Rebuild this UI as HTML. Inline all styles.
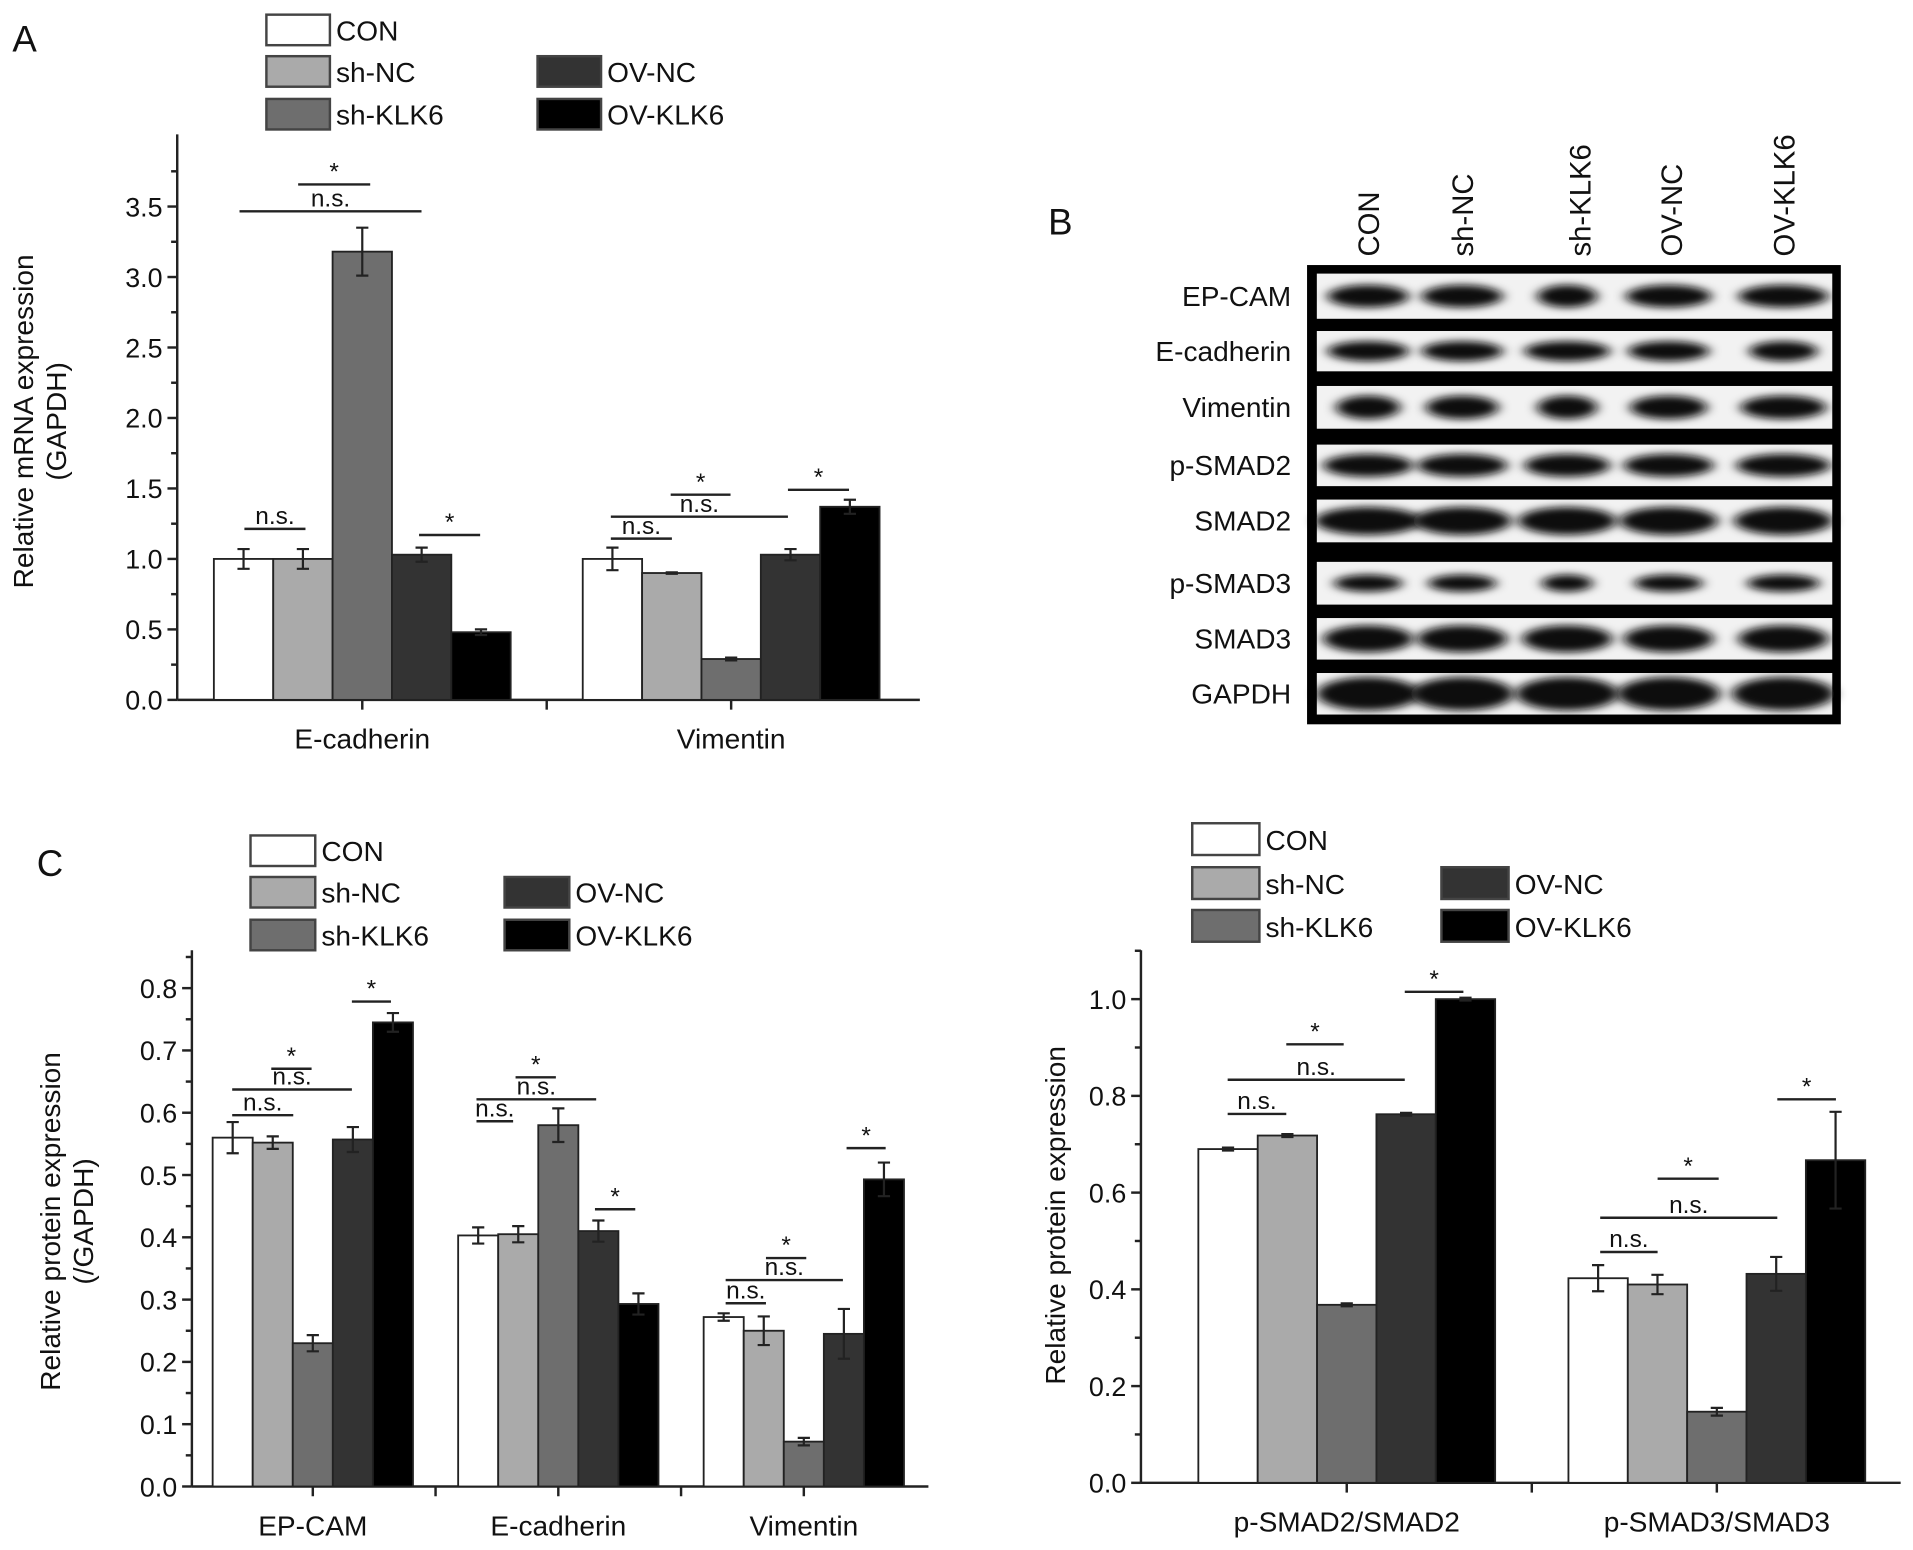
<!DOCTYPE html>
<html><head><meta charset="utf-8">
<style>
html,body{margin:0;padding:0;background:#fff;}
svg{display:block;font-family:"Liberation Sans",sans-serif;}
</style></head>
<body>
<svg id="fig" width="1913" height="1550" viewBox="0 0 1566 1269" xmlns="http://www.w3.org/2000/svg"></svg>
<script>
// ---- data ----
const groupsA = ["E-cadherin","Vimentin"];
const valsA = [[1.0,1.0,3.18,1.03,0.48],[1.0,0.9,0.29,1.03,1.37]];
const errsA = [[0.07,0.07,0.17,0.05,0.02],[0.08,0.005,0.01,0.04,0.05]];
const ticksA = ["0.0","0.5","1.0","1.5","2.0","2.5","3.0","3.5"];

const groupsC1 = ["EP-CAM","E-cadherin","Vimentin"];
const valsC1 = [[0.56,0.552,0.23,0.557,0.745],[0.403,0.405,0.58,0.41,0.293],[0.272,0.25,0.072,0.245,0.493]];
const errsC1 = [[0.025,0.01,0.013,0.02,0.015],[0.013,0.013,0.027,0.017,0.017],[0.006,0.023,0.006,0.04,0.027]];
const ticksC1 = ["0.0","0.1","0.2","0.3","0.4","0.5","0.6","0.7","0.8"];

const groupsC2 = ["p-SMAD2/SMAD2","p-SMAD3/SMAD3"];
const valsC2 = [[0.69,0.718,0.368,0.762,1.0],[0.423,0.41,0.147,0.432,0.667]];
const errsC2 = [[0.003,0.003,0.003,0.003,0.003],[0.027,0.02,0.008,0.035,0.1]];
const ticksC2 = ["0.0","0.2","0.4","0.6","0.8","1.0"];

const seriesNames = ["CON","sh-NC","sh-KLK6","OV-NC","OV-KLK6"];
const blotRows = ["EP-CAM","E-cadherin","Vimentin","p-SMAD2","SMAD2","p-SMAD3","SMAD3","GAPDH"];

const fills = ["#ffffff","#aaaaaa","#6e6e6e","#333333","#000000"];
const NS = "http://www.w3.org/2000/svg";
const svg = document.getElementById('fig');
function mk(tag, attrs, parent, text){
  const e = document.createElementNS(NS, tag);
  for (const k in attrs) e.setAttribute(k, attrs[k]);
  if (text !== undefined) e.textContent = text;
  (parent||svg).appendChild(e);
  return e;
}
function txt(x,y,s,size,anchor,parent,name){
  const t = mk('text',{x:x,y:y,'font-size':size,'text-anchor':anchor||'middle',fill:'#111'},parent,s);
  
  
  return t;
}

function legend(x1,x2,ys,bw,bh,fs,name){
  const g = mk('g',{});
  
  
  const pos = [[x1,ys[0]],[x1,ys[1]],[x1,ys[2]],[x2,ys[1]],[x2,ys[2]]];
  seriesNames.forEach((s,i)=>{
    const r = mk('rect',{x:pos[i][0],y:pos[i][1],width:bw,height:bh,fill:fills[i],stroke:'#444','stroke-width':2},g);
    
    
    txt(pos[i][0]+bw+5,pos[i][1]+bh-4,s,fs,'start',g,'legend-entry');
  });
}

function chart(o){
  const g = mk('g',{});
  
  
  const y = v => o.y0 - (v/o.step)*o.stepPx;
  mk('line',{x1:o.ax,y1:o.top,x2:o.ax,y2:o.y0,stroke:'#222','stroke-width':2},g);
  mk('line',{x1:o.ax,y1:o.y0,x2:o.axEnd,y2:o.y0,stroke:'#222','stroke-width':2},g);
  o.ticks.forEach((t,i)=>{
    const yy = y(parseFloat(t));
    mk('line',{x1:o.ax-8,y1:yy,x2:o.ax,y2:yy,stroke:'#222','stroke-width':2},g);
    txt(o.ax-12,yy+8,t,o.fs,'end',g,'y-tick-label');
    const ym = yy - o.stepPx/2;
    if (ym > o.top) mk('line',{x1:o.ax-5,y1:ym,x2:o.ax,y2:ym,stroke:'#222','stroke-width':2},g);
  });
  o.groups.forEach((gn,gi)=>{
    const gx = o.gx0 + gi*o.gStep;
    o.vals[gi].forEach((v,si)=>{
      const bx = gx + si*o.bw;
      const r = mk('rect',{x:bx,y:y(v),width:o.bw,height:o.y0-y(v),fill:fills[si],stroke:'#222','stroke-width':1.5},g);
      
      
      const e = o.errs[gi][si], cx = bx+o.bw/2;
      const eb = mk('path',{d:`M${cx},${y(v+e)}V${y(v-e)}M${cx-5},${y(v+e)}H${cx+5}M${cx-5},${y(v-e)}H${cx+5}`,stroke:'#222','stroke-width':1.8,fill:'none'},g);
      
      
    });
    const c = gx + 2.5*o.bw;
    mk('line',{x1:c,y1:o.y0,x2:c,y2:o.y0+8,stroke:'#222','stroke-width':2},g);
    txt(c,o.y0+40,gn,o.fs+1,'middle',g,'x-tick-label');
  });
  for (let gi=0; gi<o.groups.length-1; gi++){
    const m = (o.gx0 + gi*o.gStep + 5*o.bw + o.gx0 + (gi+1)*o.gStep)/2;
    mk('line',{x1:m,y1:o.y0,x2:m,y2:o.y0+8,stroke:'#222','stroke-width':2},g);
  }
  o.sig.forEach(s=>{
    const l = mk('line',{x1:s[0],y1:s[2],x2:s[1],y2:s[2],stroke:'#222','stroke-width':2},g);
    
    
    txt((s[0]+s[1])/2, s[3]==='*'? s[2]-4 : s[2]-4, s[3], 20,'middle',g,'significance-label');
  });
  o.yTitle.forEach((t,i)=>{
    const tx = o.yTitleX[i];
    const te = txt(tx,o.yTitleY,t,o.fs+1,'middle',g,'y-axis-title');
    te.setAttribute('transform',`rotate(-90 ${tx} ${o.yTitleY})`);
  });
}

// Panel A
txt(10,42,"A",30,'start',svg,'panel-label-a');
legend(218,440,[12,46,81],52,25,23,'legend-a');
chart({name:'chart-a',ax:145,axEnd:753,top:110,y0:573,step:0.5,stepPx:57.7,ticks:ticksA,fs:22,
  groups:groupsA,vals:valsA,errs:errsA,gx0:175,gStep:302,bw:48.6,
  yTitle:["Relative mRNA expression","(GAPDH)"],yTitleX:[27,54],yTitleY:345,
  sig:[[196,345,173,"n.s."],[244,303,151,"*"],[200,250,433,"n.s."],[343,393,438,"*"],
       [500,550,441,"n.s."],[500,645,423,"n.s."],[549,598,405,"*"],[645,695,401,"*"]]});

// Panel B blot
txt(858,192,"B",30,'start',svg,'panel-label-b');
const lanesX = [1120,1197,1283,1366,1460];
const labX = [1120,1197,1293,1368,1460];
const defs = mk('defs',{});
const flt = mk('filter',{id:'bl',x:'-50%',y:'-100%',width:'200%',height:'300%'},defs);
mk('feGaussianBlur',{stdDeviation:'5 3'},flt);
const blot = mk('g',{});


mk('rect',{x:1070,y:217,width:437,height:376,fill:'#000'},blot);
const strips = [[224,261],[271,304],[316,351],[364,398],[409,444],[460,495],[506,540],[551,585]];
const bandW = [[0.95,0.95,0.7,1,1.05],[0.95,0.95,1,0.95,0.8],[0.75,0.85,0.7,0.9,1],[1.05,1.05,1,1.05,1.1],[1.25,1.15,1.15,1.15,1.15],[0.8,0.8,0.6,0.8,0.85],[1.05,1.05,1.05,1.05,1.05],[1.2,1.2,1.2,1.2,1.2]];
const bandH = [0.5,0.5,0.55,0.55,0.65,0.4,0.65,0.8];
strips.forEach((s,ri)=>{
  const r = mk('rect',{x:1078,y:s[0],width:422,height:s[1]-s[0],fill:'#f2f2f2'},blot);
  
  
  lanesX.forEach((lx,li)=>{
    const h=(s[1]-s[0])*bandH[ri], w=70*bandW[ri][li];
    mk('ellipse',{cx:lx,cy:(s[0]+s[1])/2,rx:w/2,ry:h/2,fill:'#0a0a0a',filter:'url(#bl)'},blot);
  });
  txt(1057,(s[0]+s[1])/2+8,blotRows[ri],23,'end',svg,'blot-row-label');
});
seriesNames.forEach((s,i)=>{
  const t = txt(labX[i]+9,210,s,24,'start',svg,'blot-lane-label');
  t.setAttribute('transform',`rotate(-90 ${labX[i]+9} 210)`);
});

// Panel C left
txt(30,717,"C",30,'start',svg,'panel-label-c');
legend(205,413,[684,718,753],53,25,23,'legend-c-left');
chart({name:'chart-c-left',ax:157,axEnd:760,top:778,y0:1217,step:0.1,stepPx:51,ticks:ticksC1,fs:22,
  groups:groupsC1,vals:valsC1,errs:errsC1,gx0:174,gStep:201,bw:32.8,
  yTitle:["Relative protein expression","(/GAPDH)"],yTitleX:[49,76],yTitleY:1000,
  sig:[[190,240,913,"n.s."],[190,288,892,"n.s."],[222,255,875,"*"],[288,320,820,"*"],
       [390,420,918,"n.s."],[390,488,900,"n.s."],[422,455,882,"*"],[487,520,990,"*"],
       [594,627,1067,"n.s."],[594,690,1048,"n.s."],[627,660,1030,"*"],[693,725,940,"*"]]});

// Panel C right
legend(976,1180,[674,710,745],55,26,23,'legend-c-right');
chart({name:'chart-c-right',ax:934,axEnd:1556,top:778,y0:1214,step:0.2,stepPx:79.2,ticks:ticksC2,fs:22,
  groups:groupsC2,vals:valsC2,errs:errsC2,gx0:981,gStep:303,bw:48.6,
  yTitle:["Relative protein expression"],yTitleX:[872],yTitleY:995,
  sig:[[1005,1053,912,"n.s."],[1005,1150,884,"n.s."],[1053,1100,855,"*"],[1150,1198,812,"*"],
       [1310,1357,1025,"n.s."],[1310,1455,997,"n.s."],[1357,1407,965,"*"],[1455,1503,900,"*"]]});
</script>
</body></html>
